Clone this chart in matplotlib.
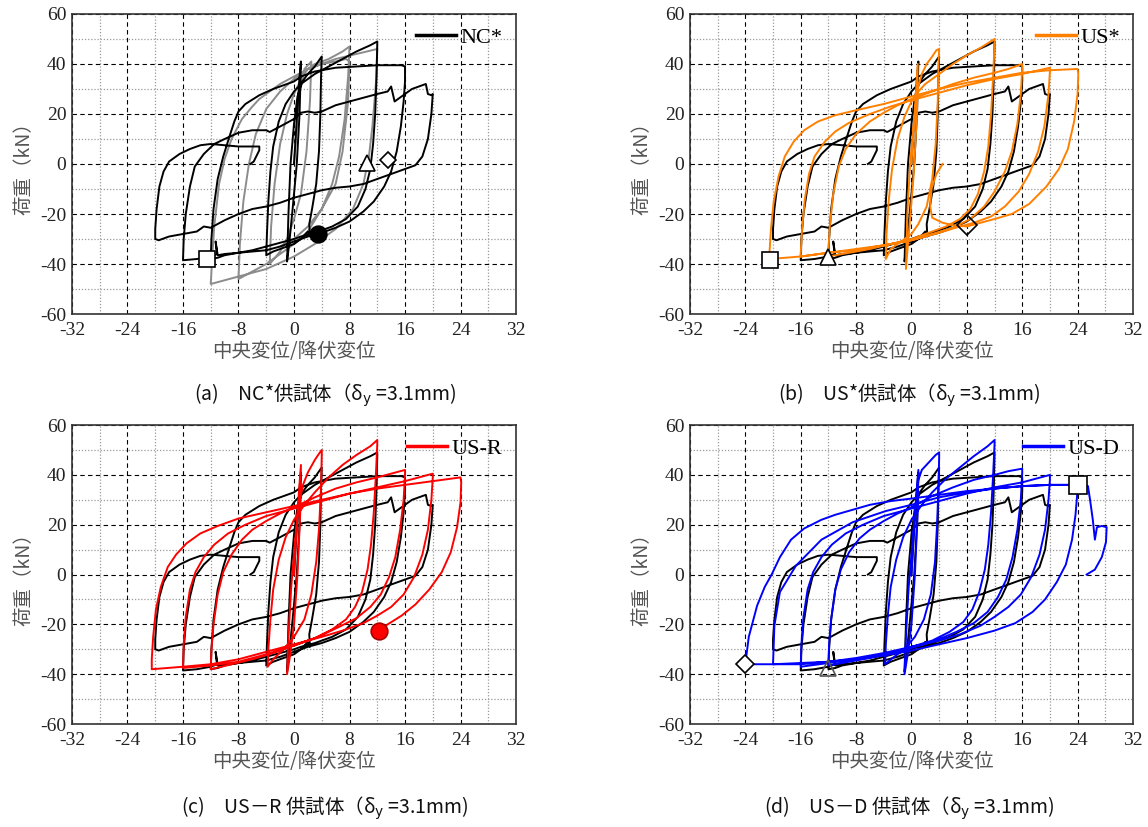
import matplotlib
matplotlib.use("Agg")
import matplotlib.pyplot as plt
from matplotlib.ticker import MultipleLocator

CJK = ["Noto Sans CJK JP", "DejaVu Sans"]
SERIF = "Liberation Serif"

plt.rcParams["font.family"] = [SERIF, "DejaVu Sans"]
plt.rcParams["axes.unicode_minus"] = False

# NC* reference specimen (black, drawn in every panel)
nc_path = [
    (0, 0), (0.4, 18), (0.8, 35), (1.0, 41), (0.8, 20), (0.4, 0), (-0.2, -18), (-0.7, -32), (-1.0, -39),
    (-0.8, -20), (-0.5, 0), (0, 16), (0.5, 27), (1.2, 33), (2, 36), (3, 39), (3.5, 41), (4, 43),
    (3.9, 35), (3.8, 20), (3.6, 5), (3.2, -8), (2.6, -18), (2.2, -24), (2.3, -29), (2.0, -27), (1, -30),
    (0, -32), (-1, -33), (-2, -34), (-3, -35), (-4, -36.5),
    (-3.9, -28), (-3.7, -15), (-3.4, -3), (-3, 7), (-2.2, 17), (-1.2, 24), (0, 29), (1, 32), (2, 34),
    (3, 36), (5, 39), (7, 42), (9, 45), (11, 47.5), (12, 49),
    (12, 48), (11.9, 35), (11.7, 20), (11.4, 8), (11, -2), (10.3, -10), (9.2, -17), (7.5, -22),
    (5.5, -25), (3, -27.5), (1, -29), (0, -30), (-2, -31.5), (-4, -33), (-6, -34.5), (-8, -35.5),
    (-10, -36.5), (-11, -37.5), (-12, -38),
    (-11.9, -30), (-11.6, -18), (-11, -6), (-10.2, 3), (-9.3, 11), (-8.6, 17), (-8, 21), (-7, 24),
    (-5, 27.5), (-3, 30), (-1, 32), (0, 33), (1, 35), (3, 37), (6, 38.5), (9, 39), (12, 39.5),
    (14, 39.5), (15.5, 39.5), (16, 39),
    (16, 33), (15.8, 25), (15.4, 15), (14.8, 5), (14, -3), (13, -9), (11.5, -15), (10, -19), (8, -23),
    (6, -25.5), (4, -27.5), (2, -29), (0, -31), (-2, -33), (-4, -34.5), (-6, -35), (-8, -35.5),
    (-10, -36), (-11, -36.5), (-11.3, -31), (-11.1, -36), (-12, -37), (-14, -38), (-16, -38.5),
    (-15.9, -30), (-15.6, -20), (-15, -9), (-14.3, -1), (-13, 4), (-11.5, 8), (-10, 10), (-8, 12.5),
    (-6, 13.5), (-4, 13.5), (-3.5, 12.8), (-2, 15), (0, 18), (1, 20.5), (2, 21), (3, 20.5), (4, 21),
    (6, 23.5), (8, 25), (10, 26.5), (12, 28), (13.5, 29), (14, 31), (14.5, 25), (15.5, 27), (17, 30),
    (18.5, 31.5), (19, 32), (19.3, 28), (19.8, 27.5), (20, 28),
    (19.8, 20), (19.3, 10), (18.5, 3), (17.5, -0.5), (16, -2), (14, -4), (12, -6), (10, -8), (8, -9),
    (6, -9.5), (4, -10.5), (2, -12), (0, -13.5), (-2, -15.5), (-4, -17), (-6, -18), (-8, -20),
    (-10, -22.5), (-12, -25.5), (-13, -25), (-14, -27), (-16, -28), (-18, -29), (-19.5, -30.5), (-20, -30),
    (-20, -26), (-19.8, -18), (-19.4, -9), (-18.8, -3), (-18, 1), (-16.5, 4), (-15, 6), (-13.5, 7.5),
    (-12, 8), (-10, 7.5), (-8, 7), (-6, 7), (-5, 7), (-5, 5.5), (-5.8, 1), (-6.3, 0),
]

# second NC test (grey, panel a only)
nc_grey_path = [
    (0, 0), (0.8, 28), (1.5, 38), (2.5, 41), (2.3, 25), (1.8, 5), (1, -12), (0, -22), (-1, -30),
    (-2, -35), (-3.5, -40),
    (-3.3, -25), (-2.8, -8), (-2, 8), (-1, 20), (0, 28), (1, 34), (2, 38), (3, 40), (5, 42), (7, 45), (8, 47),
    (7.8, 35), (7.3, 18), (6.5, 3), (5.5, -8), (4, -18), (2, -27), (0, -32), (-2, -36), (-4, -40),
    (-6, -43), (-8, -46),
    (-7.8, -32), (-7.3, -15), (-6.5, 0), (-5.5, 12), (-4, 22), (-2, 29), (0, 34), (2, 38), (4, 40),
    (6, 42), (9, 44), (12, 46),
    (11.8, 32), (11.3, 15), (10.8, 3), (10, -8), (8.5, -18), (6, -26), (3, -32), (0, -37), (-4, -42),
    (-8, -45), (-12, -48),
    (-11.8, -38), (-11.5, -25), (-10.8, -8), (-10, 2), (-9, 10), (-7.5, 18), (-6, 23), (-5, 26),
    (-4, 28), (-2, 32), (0, 35), (2, 38), (4, 40), (6, 41), (7.5, 42), (8, 41),
    (7.8, 25), (7, 5), (6, -8), (4, -18), (2, -25), (0, -30), (-2, -33),
]

us_path = [
    (0, 0), (0.5, 22), (0.9, 40), (0.8, 20), (0.3, -5), (-0.3, -25), (-0.8, -42), (-0.6, -20), (-0.2, 0),
    (0.4, 18), (0.9, 30), (1.5, 36), (2.2, 40), (3, 43), (3.6, 45.5), (4, 46),
    (3.9, 40), (3.8, 25), (3.5, 8), (3, -6), (2.2, -17), (1, -24), (0, -28), (-1.5, -31), (-3, -34), (-3.7, -38),
    (-3.6, -28), (-3.3, -15), (-2.8, -2), (-2, 10), (-1, 19), (0, 25), (1, 29), (2, 32), (4, 36), (6, 40),
    (8, 43.5), (10, 46.5), (12, 50),
    (12, 48), (11.8, 35), (11.5, 20), (11.1, 7), (10.5, -3), (9.6, -12), (8.5, -18), (7, -22), (5, -25),
    (2, -28), (0, -30), (-3, -32), (-6, -34), (-9, -35.5), (-12, -37),
    (-12, -35), (-11.8, -25), (-11.3, -12), (-10.5, -1), (-9.5, 6), (-8, 12), (-6, 17), (-4, 20.5),
    (-2, 23.5), (0, 26), (3, 29), (6, 32), (9, 34.5), (12, 36.5), (14, 38), (16, 40),
    (16, 38), (15.8, 28), (15.3, 16), (14.5, 5), (13.5, -3), (12, -11), (10.5, -17), (8.5, -22), (6, -25.5),
    (3, -28), (0, -30.5), (-4, -32.5), (-8, -34.5), (-12, -35.5), (-16, -37),
    (-16, -36), (-15.8, -26), (-15.4, -14), (-14.8, -4), (-14, 3), (-12.5, 9), (-11, 13), (-9, 16.5),
    (-6, 20), (-3, 23), (0, 25.5), (4, 28.5), (8, 31.5), (12, 34), (16, 36), (20, 38.5),
    (20, 37), (19.8, 28), (19.2, 15), (18.3, 5), (17, -4), (15.5, -11), (13.5, -17), (11.5, -21), (9, -23.5),
    (7, -25), (4, -27.5), (0, -30.5), (-4, -32.5), (-8, -34), (-12, -35.5), (-16, -37), (-20.5, -38),
    (-20.5, -35), (-20.3, -26), (-19.9, -15), (-19.2, -5), (-18.3, 3), (-17, 9), (-15.5, 13.5),
    (-13.5, 17), (-11, 19.5), (-8, 21.5), (-4, 24), (0, 27), (4, 30), (8, 32.5), (12, 34.5), (16, 36.5),
    (20, 37.5), (24, 38),
    (24.1, 36), (24, 28), (23.5, 17), (22.6, 6), (21.3, -2), (19.5, -9), (17, -16), (14.5, -20), (12, -22),
    (10, -23.5), (8, -25), (6, -24.5), (4.5, -23.5), (3, -21.5), (2.7, -17), (2.9, -10), (3.6, -4), (4.5, 0),
]

usr_path = [
    (0, 0), (0.5, 25), (1, 44), (0.9, 25), (0.5, 0), (0, -20), (-0.6, -33), (-1, -40), (-0.8, -25),
    (-0.4, -5), (0.2, 15), (0.7, 28), (1.3, 36), (2, 41), (3, 46), (3.6, 48.5), (4, 50),
    (4, 48), (3.9, 35), (3.6, 18), (3.2, 5), (2.5, -8), (1.5, -18), (0, -25), (-1.5, -30), (-3, -34), (-3.8, -37),
    (-3.7, -30), (-3.4, -18), (-3, -6), (-2.2, 6), (-1.2, 15), (0, 22), (1.5, 28), (3, 33), (5, 39),
    (7, 44), (9, 48), (11, 51.5), (12, 54),
    (12, 52), (11.8, 40), (11.5, 25), (11.1, 12), (10.6, 2), (9.8, -7), (8.8, -13), (7.5, -18), (5.5, -22),
    (3, -25.5), (0, -28.5), (-3, -31.5), (-6, -34), (-9, -36), (-12, -38),
    (-11.9, -30), (-11.6, -20), (-11, -8), (-10.2, 1), (-9, 8), (-7.5, 14), (-6, 18), (-4, 21.5),
    (-2, 24.5), (0, 27), (3, 31), (6, 34.5), (9, 37), (12, 39), (14, 40.5), (16, 42),
    (16, 40), (15.8, 30), (15.3, 18), (14.6, 7), (13.7, -1), (12.5, -8), (11, -13), (9, -17.5), (6.5, -21),
    (3.5, -25), (0, -28.5), (-4, -32), (-8, -35), (-12, -36.5), (-16, -37.5),
    (-15.9, -28), (-15.6, -17), (-15, -6), (-14.2, 1), (-13, 7), (-11.5, 12), (-9.5, 16.5), (-7, 20),
    (-4, 23.5), (0, 26.5), (4, 29.5), (8, 32.5), (12, 35), (16, 37.5), (18, 39), (20, 40.5),
    (20, 39), (19.8, 30), (19.3, 18), (18.5, 8), (17.3, -1), (15.8, -8), (14, -13), (12, -16.5), (10, -19.5),
    (7, -22.5), (4, -25), (0, -28), (-4, -31), (-8, -34), (-12, -36), (-16, -37), (-20.5, -38),
    (-20.5, -34), (-20.3, -25), (-19.9, -14), (-19.2, -5), (-18.2, 3), (-17, 8), (-15.5, 12.5),
    (-13.5, 16.5), (-11, 19.5), (-8, 22.5), (-4, 25), (0, 27.5), (4, 30), (8, 32.5), (12, 34.5), (16, 36),
    (20, 37.5), (24, 39),
    (24.1, 37), (24, 29), (23.5, 19), (22.6, 9), (21.3, 1), (19.5, -6), (17.5, -12), (15.5, -16.5),
    (13.5, -20), (12.3, -22.5),
]

usd_path = [
    (0, 0), (0.5, 25), (1, 42), (0.9, 25), (0.5, 0), (0, -20), (-0.6, -33), (-1, -40), (-0.8, -25),
    (-0.4, -5), (0.2, 15), (0.6, 28), (1, 38), (1.5, 42), (2.5, 45), (3.5, 48), (4, 49),
    (4, 47), (3.9, 35), (3.7, 20), (3.4, 5), (2.8, -8), (1.8, -18), (0.5, -25), (-1, -30), (-2.5, -33), (-3.8, -36),
    (-3.7, -28), (-3.4, -16), (-3, -5), (-2.2, 6), (-1.2, 15), (0, 22), (1.5, 28), (3, 33), (5, 38.5),
    (7, 43), (9, 47.5), (11, 51.5), (12, 54),
    (12, 52), (11.8, 40), (11.5, 25), (11.1, 12), (10.6, 2), (9.8, -7), (8.8, -14), (7.5, -19), (5.5, -23),
    (3, -26.5), (0, -29), (-3, -31.5), (-6, -33.5), (-9, -35), (-12, -36.5),
    (-11.9, -28), (-11.6, -18), (-11, -6), (-10.2, 2), (-9, 9), (-7.5, 14.5), (-6, 18), (-4, 21.5),
    (-2, 24.5), (0, 27), (3, 31.5), (6, 35), (9, 38), (12, 40), (14, 41.5), (16, 42.5),
    (16, 41), (15.8, 30), (15.3, 18), (14.6, 7), (13.7, -2), (12.5, -9), (11, -15), (9, -19.5), (6.5, -23),
    (3.5, -26.5), (0, -29.5), (-4, -32), (-8, -34), (-12, -35.5), (-16, -37),
    (-15.9, -28), (-15.6, -17), (-15, -6), (-14.2, 1), (-13, 7), (-11.5, 12), (-9.5, 16.5), (-7, 20),
    (-4, 23.5), (0, 26.5), (4, 29.5), (8, 32.5), (12, 35), (16, 37), (18, 38.5), (20, 40),
    (20, 38), (19.8, 30), (19.3, 18), (18.5, 8), (17.3, -1), (15.8, -8), (14, -13), (12, -17), (10, -20.5),
    (7, -24), (4, -26.5), (0, -29), (-4, -31.5), (-8, -33.5), (-12, -35), (-16, -36), (-20, -36),
    (-19.8, -20.5), (-19, -7), (-16.7, 3.5), (-13, 14), (-8.5, 21), (-3.7, 25.5), (0, 28), (4, 31),
    (8, 33), (12, 34.5), (16, 35.5), (20, 36), (24, 36),
    (24, 34), (23.7, 24), (23.2, 14), (22.3, 4), (21, -3), (19.3, -10), (17.5, -15), (15, -19.5), (12, -22.5),
    (8, -25.5), (4, -28), (0, -30.5), (-4, -32.5), (-8, -34), (-12, -35), (-16, -35.5), (-20, -36), (-24, -36),
    (-23.5, -25), (-22.3, -12.5), (-21.2, -5), (-20.2, 0), (-19, 7), (-17.4, 14), (-15.5, 18.5), (-13, 22),
    (-11, 24), (-8.5, 26), (-6, 28), (-3, 29.5), (0, 30.5), (4, 32), (8, 33.5), (12, 34.5), (16, 35.5),
    (20, 36), (24, 36),
    (25, 36), (25.5, 35.5), (25.8, 30), (26.2, 22), (26.5, 14), (26.8, 19), (27.5, 19.5), (28.2, 19),
    (28.1, 13), (27.5, 7), (26.5, 2), (25.3, 0),
]

# event markers: (x, y)
nc_square, nc_triangle, nc_diamond, nc_circle = (-12.5, -38), (10.5, 0.5), (13.5, 1.5), (3.5, -28)
us_square, us_triangle, us_diamond = (-20.5, -38.5), (-12, -37), (8, -24.5)
usr_circle = (12.3, -22.5)
usd_diamond, usd_square, usd_triangle = (-24, -36), (24, 36), (-12, -37.5)

panel_names = ["NC*", "US*", "US-R", "US-D"]
panel_colors = ["black", "#ff8000", "#ff0000", "#0000ff"]
captions = [
    "(a)\u3000NC*供試体（δ$_\\mathrm{y}$ =3.1mm)",
    "(b)\u3000US*供試体（δ$_\\mathrm{y}$ =3.1mm)",
    "(c)\u3000US－R 供試体（δ$_\\mathrm{y}$ =3.1mm)",
    "(d)\u3000US－D 供試体（δ$_\\mathrm{y}$ =3.1mm)",
]
x_ticks = [-32, -24, -16, -8, 0, 8, 16, 24, 32]
y_ticks = [-60, -40, -20, 0, 20, 40, 60]


def xy(path):
    return [p[0] for p in path], [p[1] for p in path]


def mark(ax, pt, marker, size, face="white", edge="black"):
    ax.plot(pt[0], pt[1], marker=marker, ms=size, mfc=face, mec=edge, mew=1.2,
            ls="none", zorder=6)


def setup(ax):
    ax.set_xlim(-32, 32)
    ax.set_ylim(-60, 60)
    ax.set_xticks(x_ticks, labels=[str(t) for t in x_ticks], fontfamily=SERIF, fontsize=14)
    ax.set_yticks(y_ticks, labels=[str(t) for t in y_ticks], fontfamily=SERIF, fontsize=14)
    ax.xaxis.set_minor_locator(MultipleLocator(4))
    ax.yaxis.set_minor_locator(MultipleLocator(10))
    ax.grid(which="minor", color="#9a9a9a", ls=(0, (1, 1.5)), lw=0.9)
    ax.grid(which="major", color="black", ls=(0, (4, 3)), lw=0.8)
    ax.set_axisbelow(True)
    ax.tick_params(which="both", length=0, labelcolor="#222222")
    ax.tick_params(axis="x", pad=6)
    ax.tick_params(axis="y", pad=4)
    for s in ax.spines.values():
        s.set_color("#333333")
        s.set_linewidth(1.2)
    ax.set_xlabel("中央変位/降伏変位", family=CJK, fontsize=14, color="#555555", labelpad=1)
    ax.set_ylabel("荷重（kN）", family=CJK, fontsize=14, color="#555555", labelpad=4)


fig = plt.figure(figsize=(11.48, 8.27), dpi=100)
rects = [
    [0.0627, 0.6203, 0.3868, 0.3628],
    [0.6010, 0.6203, 0.3859, 0.3628],
    [0.0627, 0.1245, 0.3868, 0.3615],
    [0.6010, 0.1245, 0.3859, 0.3615],
]
colored = [None, us_path, usr_path, usd_path]
caption_x = [0.283, 0.792, 0.283, 0.792]
caption_y = [0.522, 0.522, 0.023, 0.023]

for i, rect in enumerate(rects):
    ax = fig.add_axes(rect)
    setup(ax)
    if i == 0:
        gx, gy = xy(nc_grey_path)
        ax.plot(gx, gy, color="#8c8c8c", lw=1.4, zorder=3)
    bx, by = xy(nc_path)
    ax.plot(bx, by, color="black", lw=1.4, zorder=4)
    if colored[i] is not None:
        cx, cy = xy(colored[i])
        ax.plot(cx, cy, color=panel_colors[i], lw=1.4, zorder=5)
    # legend entry
    ax.plot([], [], color=panel_colors[i], lw=2.5, label=panel_names[i])
    ax.legend(loc="upper right", frameon=False, handlelength=1.8, handletextpad=0.2,
              borderaxespad=0.2, prop={"family": SERIF, "size": 16})

    if i == 0:
        mark(ax, nc_square, "s", 12)
        mark(ax, nc_triangle, "^", 11)
        mark(ax, nc_diamond, "D", 8)
        mark(ax, nc_circle, "o", 12, face="black")
    elif i == 1:
        mark(ax, us_square, "s", 12)
        mark(ax, us_triangle, "^", 11)
        mark(ax, us_diamond, "D", 10, face="none")
    elif i == 2:
        mark(ax, usr_circle, "o", 12, face="#ff0000", edge="#aa0000")
    else:
        mark(ax, usd_diamond, "D", 9)
        mark(ax, usd_square, "s", 13)
        mark(ax, usd_triangle, "^", 11, face="none", edge="#555555")

    fig.text(caption_x[i], caption_y[i], captions[i], family=CJK, fontsize=14,
             ha="center", va="center", color="#111111")

fig.savefig("out.png", dpi=100)
